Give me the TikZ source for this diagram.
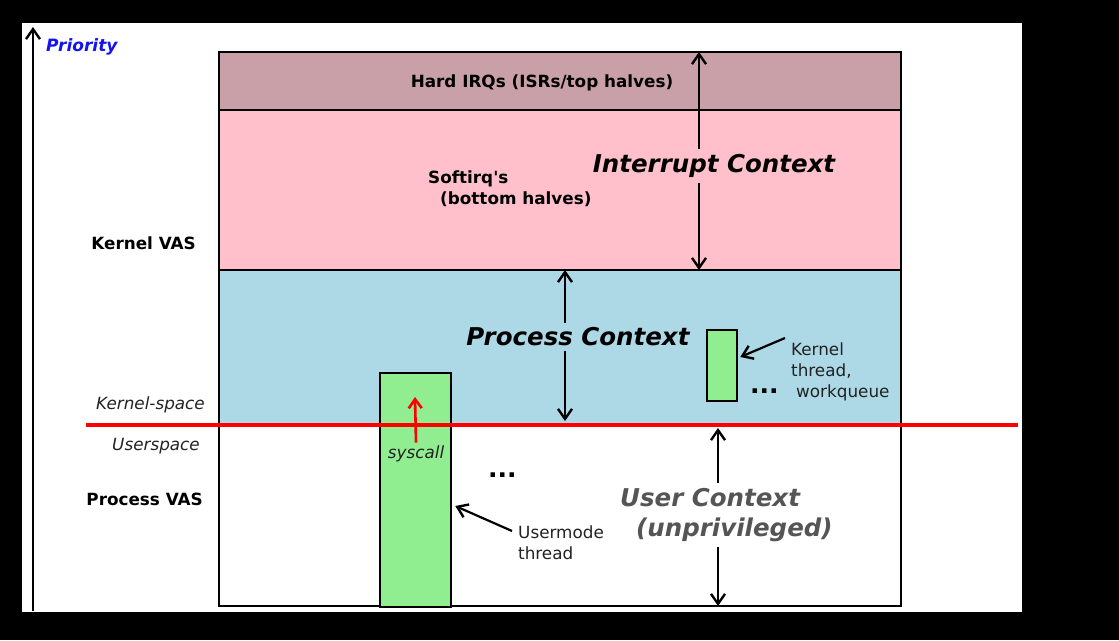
\documentclass[tikz,border=0pt]{standalone}
\usepackage{fontspec}
\setmainfont{DejaVu Sans}[Ligatures=TeXOff,ItalicFont={DejaVu Sans Oblique},BoldFont={DejaVu Sans Bold},BoldItalicFont={DejaVu Sans Bold Oblique}]
\usetikzlibrary{arrows.meta,calc}

\definecolor{irqband}{RGB}{201,160,168}
\definecolor{softband}{RGB}{255,192,203}
\definecolor{procband}{RGB}{173,216,230}
\definecolor{threadfill}{RGB}{144,238,144}
\definecolor{ctxgray}{RGB}{85,85,85}
\definecolor{labelink}{RGB}{34,34,34}
\definecolor{prioblue}{RGB}{20,20,240}
\definecolor{ringred}{RGB}{255,0,0}

\tikzset{
  lbl/.style={font=\fontsize{16.8}{21}\selectfont, inner sep=0pt, text=labelink},
  lblb/.style={lbl, font=\fontsize{16.8}{21}\selectfont\bfseries, text=black},
  lbli/.style={lbl, font=\fontsize{16.8}{21}\selectfont\itshape},
  ctx/.style={font=\fontsize{24.5}{30}\selectfont\bfseries\itshape, inner xsep=0pt, inner ysep=5pt},
  dotsl/.style={font=\fontsize{25}{30}\selectfont\bfseries, inner sep=0pt},
  band/.style={draw=black, line width=2.6pt},
  thread/.style={draw=black, line width=2.3pt, fill=threadfill, inner sep=0pt},
  barb/.tip={Straight Barb[length=10pt,width=14pt,line width=2.4pt]},
  span/.style={line width=2.2pt, barb-barb},
  ptr/.style={line width=2.2pt, -barb},
  sysarr/.style={line width=2.6pt, draw=ringred, -{Straight Barb[length=9pt,width=13pt,line width=2.6pt]}},
}

\begin{document}
\begin{tikzpicture}[x=1pt,y=-1pt]
\useasboundingbox (0,0) rectangle (1119,640);
\fill[black] (0,0) rectangle (1119,640);
\fill[white] (22,23) rectangle (1022,612);

% priority axis
\coordinate (axbot) at (33,611);
\coordinate (axtop) at (33,27);
\draw[ptr] (axbot) -- (axtop);
\node[lbl, font=\fontsize{17}{21}\selectfont\bfseries\itshape, text=prioblue, anchor=west] (prio) at (46,47) {Priority};

% address-space bands
\filldraw[band, fill=irqband]  (219,52)  rectangle (901,110);
\filldraw[band, fill=softband] (219,110) rectangle (901,270);
\filldraw[band, fill=procband] (219,270) rectangle (901,425);
\draw[band] (219,52) rectangle (901,606);

% band labels
\node[lblb] (hardirq) at (542,83) {Hard IRQs (ISRs/top halves)};
\node[lblb, align=left, anchor=north west] (softirq) at (428,171) {Softirq's\\\hspace*{12pt}(bottom halves)};

% threads
\node[thread, minimum width=71pt, minimum height=234pt, anchor=north west] (uthread) at (379,372) {};
\node[thread, minimum width=30pt, minimum height=71pt, anchor=north west] (kthread) at (706,329) {};

% context labels and their extents
\node[ctx] (ictx) at (714,166) {Interrupt Context};
\coordinate (ictop) at (699,52);
\coordinate (icbot) at (699,270);
\draw[ptr] (ictx.north -| ictop) -- (ictop);
\draw[ptr] (ictx.south -| icbot) -- (icbot);

\node[ctx] (pctx) at (578,337) {Process Context};
\coordinate (pctop) at (565,270);
\coordinate (pcbot) at (565,421);
\draw[ptr] (pctx.north -| pctop) -- (pctop);
\draw[ptr] (pctx.south -| pcbot) -- (pcbot);

\node[ctx, text=ctxgray, align=left, anchor=north west] (uctx) at (620,483) {User Context\\\hspace*{16pt}(unprivileged)};
\coordinate (uctop) at (718,428);
\coordinate (ucbot) at (718,606);
\draw[ptr] (uctx.north -| uctop) -- (uctop);
\draw[ptr] (uctx.south -| ucbot) -- (ucbot);

% thread labels
\node[lbl, align=left, anchor=north west] (ktlbl) at (791,343) {Kernel\\thread,\\\hspace*{5pt}workqueue};
\coordinate (ktfrom) at (785,338);
\draw[ptr] (ktfrom) -- ($(kthread.north east)+(2,28)$);

\node[lbl, align=left, anchor=north west] (utlbl) at (518,526) {Usermode\\thread};
\coordinate (utfrom) at (512,531);
\draw[ptr] (utfrom) -- ($(uthread.north east)+(3,134)$);

\node[dotsl, anchor=base west] (dotsu) at (488,477) {...};
\node[dotsl, anchor=base west] (dotsk) at (750,393) {...};

% side labels
\node[lblb, anchor=east] (kvas) at (196,243) {Kernel VAS};
\node[lbli, anchor=east] (kspace) at (205,405) {Kernel-space};
\node[lbli, anchor=east] (uspace) at (200,446) {Userspace};
\node[lblb, anchor=east] (pvas) at (203,499) {Process VAS};

% privilege boundary
\coordinate (bleft) at (86,425);
\coordinate (bright) at (1018,425);
\draw[ringred, line width=4pt] (bleft) -- (bright);

% system call crossing
\node[lbli] (sys) at (416,454) {syscall};
\coordinate (systop) at (415,397);
\draw[sysarr] (sys.north) ++(0,-3) -- (systop);
\end{tikzpicture}
\end{document}
